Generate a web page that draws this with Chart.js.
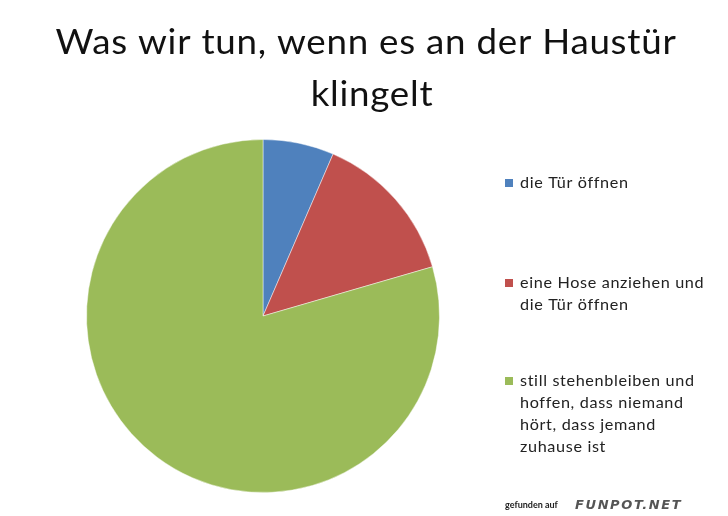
<!DOCTYPE html>
<html>
<head>
<meta charset="utf-8">
<script src="https://cdn.jsdelivr.net/npm/chart.js@4"></script>
<style>
html, body { margin: 0; padding: 0; background: #fff; }
#wrap { width: 728px; height: 516px; }
</style>
</head>
<body>
<div id="wrap"><canvas id="myChart"></canvas></div>
<script>
const titleLines = ['Was wir tun, wenn es an der Haustür', 'klingelt'];
const labels = [
  ['die Tür öffnen'],
  ['eine Hose anziehen und', 'die Tür öffnen'],
  ['still stehenbleiben und', 'hoffen, dass niemand', 'hört, dass jemand', 'zuhause ist']
];
const values = [6.5, 14, 79.5];
const colors = ['#4F81BD', '#C0504D', '#9BBB59'];

const FONT = 'Lato, "Open Sans", sans-serif';

// text slightly stretched sideways, like the scanned original
function wideText(ctx, t, x, y, sx) {
  ctx.save();
  ctx.translate(x, y);
  ctx.scale(sx, 1);
  ctx.fillText(t, 0, 0);
  ctx.restore();
}

// title, legend on the right and the watermark
const extras = {
  id: 'extras',
  afterDraw(chart) {
    const ctx = chart.ctx;
    ctx.save();
    ctx.fillStyle = '#111';
    ctx.textAlign = 'center';
    ctx.textBaseline = 'alphabetic';
    ctx.font = '35px ' + FONT;
    ctx.letterSpacing = '0.7px';
    wideText(ctx, titleLines[0], 366, 54, 1.05);
    wideText(ctx, titleLines[1], 372, 106, 1.05);

    const tops = [188, 288, 386];
    ctx.textAlign = 'left';
    ctx.font = '15px ' + FONT;
    ctx.letterSpacing = '0.6px';
    labels.forEach((lines, i) => {
      ctx.fillStyle = chart.data.datasets[0].backgroundColor[i];
      ctx.fillRect(505, tops[i] - 9, 8, 8);
      ctx.fillStyle = '#222';
      lines.forEach((t, j) => wideText(ctx, t, 520, tops[i] + j * 22, 1.08));
    });

    // watermark
    ctx.letterSpacing = '0px';
    ctx.fillStyle = '#222';
    ctx.font = 'bold 9px ' + FONT;
    ctx.fillText('gefunden auf', 505, 508);
    ctx.fillStyle = '#555';
    ctx.font = 'italic bold 13px "DejaVu Sans", sans-serif';
    ctx.letterSpacing = '1.6px';
    ctx.fillText('FUNPOT.NET', 575, 509);
    ctx.restore();
  }
};

const config = {
  type: 'pie',
  data: {
    labels: labels.map(l => l.join(' ')),
    datasets: [{
      data: values,
      backgroundColor: colors,
      borderColor: 'rgba(255,255,255,0.45)',
      borderWidth: 1
    }]
  },
  options: {
    responsive: true,
    maintainAspectRatio: false,
    animation: false,
    layout: { padding: { left: 86, right: 288, top: 139, bottom: 23 } },
    plugins: {
      legend: { display: false },
      title: { display: false },
      tooltip: { enabled: false }
    }
  },
  plugins: [extras]
};

const myChart = new Chart(document.getElementById('myChart'), config);
</script>
</body>
</html>
